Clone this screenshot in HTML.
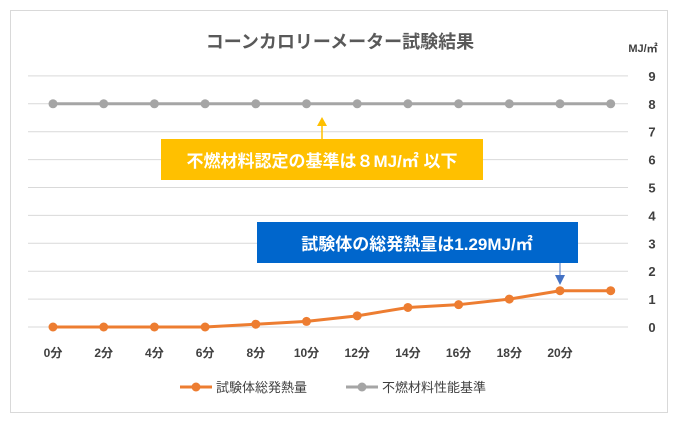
<!DOCTYPE html>
<html><head><meta charset="utf-8"><style>
body{margin:0;background:#fff;}
svg text{font-family:"Liberation Sans","Noto Sans CJK JP",sans-serif;}
</style></head><body>
<svg id="c" width="680" height="425" xmlns="http://www.w3.org/2000/svg">
<rect x="10.5" y="10.5" width="657" height="402" fill="#fff" stroke="#d9d9d9"/>
<text x="340" y="48" text-anchor="middle" font-size="18" font-weight="bold" fill="#595959">コーンカロリーメーター試験結果</text>
<text x="643" y="52" text-anchor="middle" font-size="11" font-weight="bold" fill="#404040">MJ/㎡</text>
<g id="grid"></g><g id="ylab"></g><g id="xlab"></g><g id="series"></g>
<rect x="161" y="139" width="322" height="41" fill="#ffc000"/>
<text x="322" y="167" text-anchor="middle" font-size="17" font-weight="bold" fill="#fff">不燃材料認定の基準は８MJ/㎡ 以下</text>
<line x1="322" y1="139" x2="322" y2="122" stroke="#ffc000" stroke-width="1.5"/>
<polygon points="317,126 327,126 322,117" fill="#ffc000"/>
<rect x="257" y="222" width="321" height="41" fill="#0066cc"/>
<text x="417" y="250" text-anchor="middle" font-size="17" font-weight="bold" fill="#fff">試験体の総発熱量は1.29MJ/㎡</text>
<line x1="560" y1="263" x2="560" y2="277" stroke="#4472c4" stroke-width="1"/>
<polygon points="555,275 565,275 560,285" fill="#4472c4"/>
<g>
<line x1="180" y1="387" x2="212" y2="387" stroke="#ed7d31" stroke-width="3"/>
<circle cx="196" cy="387" r="4.5" fill="#ed7d31"/>
<text x="216" y="392" font-size="13" fill="#404040">試験体総発熱量</text>
<line x1="346" y1="387" x2="378" y2="387" stroke="#a5a5a5" stroke-width="3"/>
<circle cx="362" cy="387" r="4.5" fill="#a5a5a5"/>
<text x="382" y="392" font-size="13" fill="#404040">不燃材料性能基準</text>
</g>
</svg>
<script>
const categories=["0分","2分","4分","6分","8分","10分","12分","14分","16分","18分","20分",""];
const totalHeat=[0,0,0,0,0.1,0.2,0.4,0.7,0.8,1.0,1.3,1.3];
const standard=[8,8,8,8,8,8,8,8,8,8,8,8];
const yTicks=[0,1,2,3,4,5,6,7,8,9];
const NS="http://www.w3.org/2000/svg";
const x=i=>53+i*50.7;
const y=v=>327-v*27.9;
function mk(t,a,p){const e=document.createElementNS(NS,t);for(const k in a)e.setAttribute(k,a[k]);p.appendChild(e);return e;}
const g=document.getElementById('grid'),yl=document.getElementById('ylab'),xl=document.getElementById('xlab'),s=document.getElementById('series');
yTicks.forEach(v=>{
 const l=mk('line',{x1:28,x2:628,y1:y(v),y2:y(v),stroke:'#d9d9d9','stroke-width':1},g);
 
 
 const t=mk('text',{x:652,y:y(v)+5,'text-anchor':'middle','font-size':13,'font-weight':'bold',fill:'#404040'},yl);
 t.textContent=v;
 
 
});
categories.forEach((c,i)=>{
 if(!c)return;
 const t=mk('text',{x:x(i),y:357,'text-anchor':'middle','font-size':12,'font-weight':'bold',fill:'#404040'},xl);
 t.textContent=c;
 
 
});
function series(vals,color,name){
 const p=mk('polyline',{points:vals.map((v,i)=>x(i)+','+y(v)).join(' '),fill:'none',stroke:color,'stroke-width':3,'stroke-linejoin':'round'},s);
 
 
 vals.forEach((v,i)=>{
  const c=mk('circle',{cx:x(i),cy:y(v),r:4.5,fill:color},s);
  
  
 });
}
series(standard,'#a5a5a5','standard');
series(totalHeat,'#ed7d31','total-heat');
</script>
</body></html>
